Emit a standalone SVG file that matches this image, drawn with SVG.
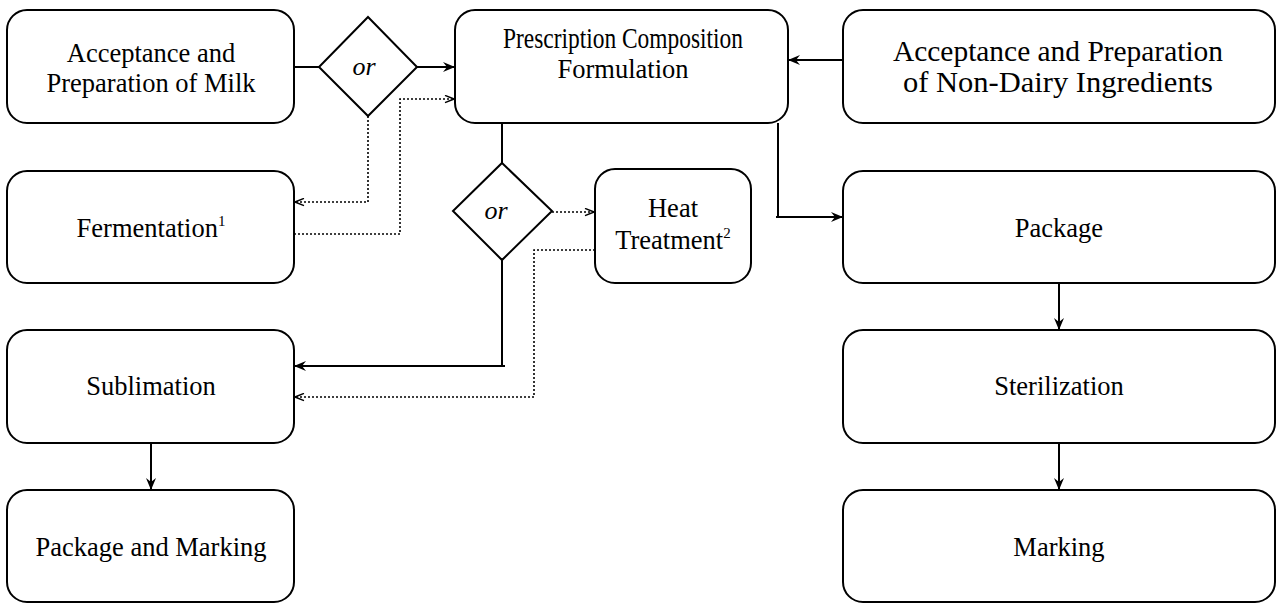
<svg xmlns="http://www.w3.org/2000/svg" width="1282" height="603" viewBox="0 0 1282 603">
<style>
.box{fill:#fff;stroke:#000;stroke-width:2}
.dia{fill:#fff;stroke:#000;stroke-width:2}
.t{font-family:"Liberation Serif","Times New Roman",serif;font-size:26.5px;fill:#000;text-anchor:middle}
.big{font-size:29px}
.or{font-family:"Liberation Serif","Times New Roman",serif;font-size:26px;font-style:italic;fill:#000;text-anchor:middle}
.sup{font-size:15px}
.solid{fill:none;stroke:#000;stroke-width:2}
.dot{fill:none;stroke:#000;stroke-width:1.6;stroke-dasharray:2 2}
</style>
<defs>
<marker id="a" viewBox="0 0 12 10" refX="11" refY="5" markerWidth="12" markerHeight="10" markerUnits="userSpaceOnUse" orient="auto">
<path d="M0,0 L12,5 L0,10 L4,5 z" fill="#000"/>
</marker>
<marker id="ad" viewBox="0 0 12 10" refX="11" refY="5" markerWidth="11" markerHeight="9" markerUnits="userSpaceOnUse" orient="auto">
<path d="M1,1 L11,5 L1,9" fill="none" stroke="#000" stroke-width="1.6"/>
</marker>
</defs>
<g id="connectors">
<path class="solid" d="M294,67 H319"/>
<path class="solid" d="M417,67 H454" marker-end="url(#a)"/>
<path class="dot" d="M368,116 V202 H295" marker-end="url(#ad)"/>
<path class="dot" d="M294,234 H400 V99 H454" marker-end="url(#ad)"/>
<path class="solid" d="M843,60 H789" marker-end="url(#a)"/>
<path class="solid" d="M502,123 V163"/>
<path class="dot" d="M552,212 H594" marker-end="url(#ad)"/>
<path class="dot" d="M595,250 H534 V397 H295" marker-end="url(#ad)"/>
<path class="solid" d="M502,260 V366"/>
<path class="solid" d="M505,366 H295" marker-end="url(#a)"/>
<path class="solid" d="M778,123 V217"/>
<path class="solid" d="M776,217 H842" marker-end="url(#a)"/>
<path class="solid" d="M151,443 V489" marker-end="url(#a)"/>
<path class="solid" d="M1059,283 V329" marker-end="url(#a)"/>
<path class="solid" d="M1059,443 V489" marker-end="url(#a)"/>
</g>
<g id="milk"><rect class="box" x="7" y="10" width="287" height="113" rx="20"/>
<text class="t" x="151" y="62">Acceptance and</text><text class="t" x="151" y="92">Preparation of Milk</text></g>
<g id="or1"><polygon class="dia" points="368,17 417,67 368,116 319,67"/><text class="or" x="364" y="75">or</text></g>
<g id="prescription"><rect class="box" x="455" y="10" width="333" height="113" rx="20"/>
<text class="t big" x="623" y="48" textLength="240" lengthAdjust="spacingAndGlyphs">Prescription Composition</text><text class="t" x="623" y="78">Formulation</text></g>
<g id="nondairy"><rect class="box" x="843" y="10" width="432" height="113" rx="20"/>
<text class="t big" x="1058" y="61" textLength="330" lengthAdjust="spacingAndGlyphs">Acceptance and Preparation</text><text class="t big" x="1058" y="92" textLength="310" lengthAdjust="spacingAndGlyphs">of Non-Dairy Ingredients</text></g>
<g id="fermentation"><rect class="box" x="7" y="171" width="287" height="112" rx="20"/>
<text class="t" x="151" y="237">Fermentation<tspan class="sup" dy="-11">1</tspan></text></g>
<g id="or2"><polygon class="dia" points="502,163 552,211 502,260 453,211"/><text class="or" x="496" y="219">or</text></g>
<g id="heat"><rect class="box" x="595" y="169" width="156" height="114" rx="20"/>
<text class="t" x="673" y="217">Heat</text><text class="t" x="673" y="249">Treatment<tspan class="sup" dy="-11">2</tspan></text></g>
<g id="package"><rect class="box" x="843" y="171" width="432" height="112" rx="20"/>
<text class="t" x="1059" y="237">Package</text></g>
<g id="sublimation"><rect class="box" x="7" y="330" width="287" height="113" rx="20"/>
<text class="t" x="151" y="395">Sublimation</text></g>
<g id="sterilization"><rect class="box" x="843" y="330" width="432" height="113" rx="20"/>
<text class="t" x="1059" y="395">Sterilization</text></g>
<g id="packmark"><rect class="box" x="7" y="490" width="287" height="112" rx="20"/>
<text class="t" x="151" y="556">Package and Marking</text></g>
<g id="marking"><rect class="box" x="843" y="490" width="432" height="112" rx="20"/>
<text class="t" x="1059" y="556">Marking</text></g>
</svg>
